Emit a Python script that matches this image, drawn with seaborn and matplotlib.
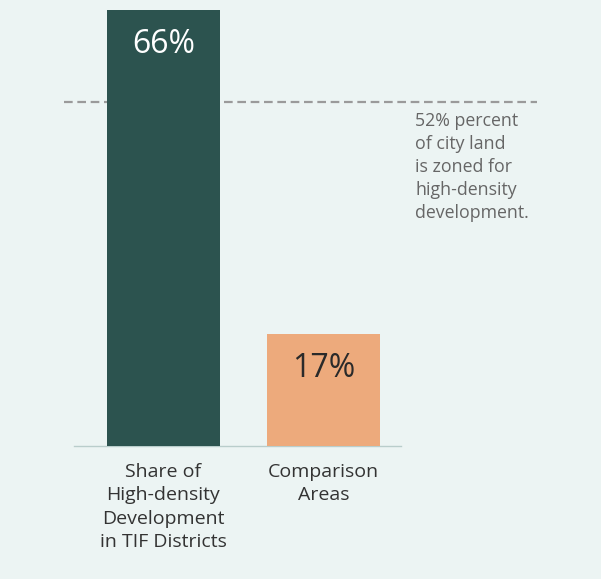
import matplotlib
matplotlib.use("Agg")
import matplotlib.pyplot as plt
import seaborn as sns
import pandas as pd

categories = ["Share of\nHigh-density\nDevelopment\nin TIF Districts", "Comparison\nAreas"]
values = [66, 17]
value_labels = ["66%", "17%"]
city_share = 52
city_note = "52% percent\nof city land\nis zoned for\nhigh-density\ndevelopment."

bar_colors = ["#2C534F", "#EDAA7C"]
label_colors = ["#FFFFFF", "#2A2A2A"]
bg = "#ECF4F3"

sns.set_theme(style="white")
plt.rcParams["font.family"] = ["Open Sans", "DejaVu Sans"]

W, H = 601, 579
fig = plt.figure(figsize=(W / 100, H / 100), dpi=100, facecolor=bg)
ax = fig.add_axes([74 / W, (H - 446) / H, (401 - 74) / W, 436 / H])
ax.set_facecolor(bg)

df = pd.DataFrame({"cat": categories, "val": values})
sns.barplot(data=df, x="cat", y="val", hue="cat", palette=bar_colors,
            width=0.706, saturation=1, legend=False, ax=ax, zorder=3,
            linewidth=0, edgecolor="none")

ax.set_xlim(-0.559, 1.484)
ax.set_ylim(0, 66)

# dashed reference line for the citywide share, running past the plot area
ax.axhline(city_share, xmin=-0.0306, xmax=1.416, color="#9A9A9A", lw=1.6,
           dashes=(3.9, 2.1), clip_on=False, zorder=1)
ax.text(415 / W, (H - 112) / H, city_note, transform=fig.transFigure,
        ha="left", va="top", fontsize=12.8, color="#666666", linespacing=1.35)

for i, (v, lab) in enumerate(zip(values, value_labels)):
    ax.text(i, v - 5.2, lab, ha="center", va="center", fontsize=23,
            color=label_colors[i], zorder=4)

for s in ["top", "right", "left"]:
    ax.spines[s].set_visible(False)
ax.spines["bottom"].set_color("#B9CDCB")
ax.spines["bottom"].set_linewidth(1)
ax.set_yticks([])
ax.set_xlabel("")
ax.set_ylabel("")
ax.tick_params(axis="x", length=0, pad=12, labelsize=14, labelcolor="#333333")
for t in ax.get_xticklabels():
    t.set_linespacing(1.4)
    t.set_va("top")

fig.savefig("out.png", dpi=100, facecolor=bg)
